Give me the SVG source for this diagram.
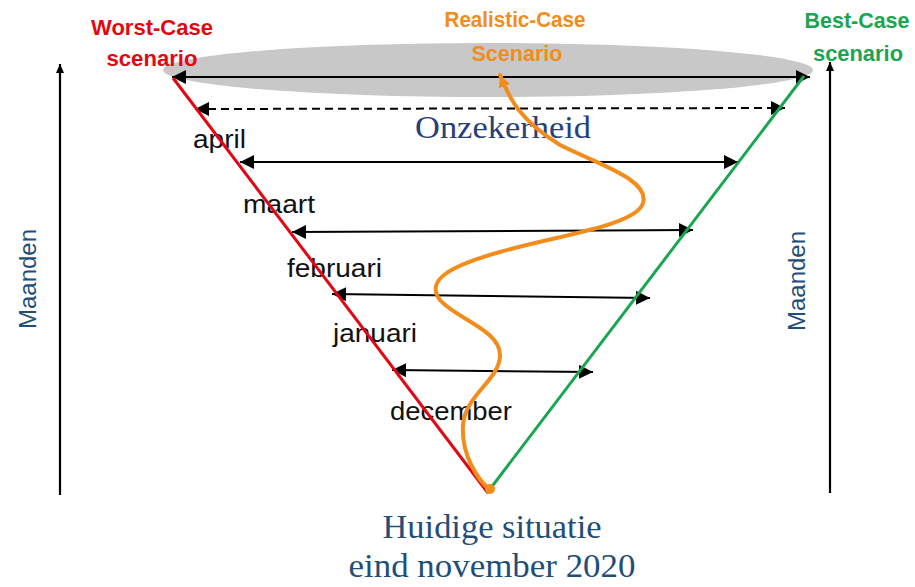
<svg xmlns="http://www.w3.org/2000/svg" width="915" height="587" viewBox="0 0 915 587">
  <style>
    .lbl { font-family: "Liberation Sans", Arial, sans-serif; font-weight: bold; font-size: 22px; text-anchor: middle; }
    .month { font-family: "Liberation Sans", Arial, sans-serif; font-size: 25px; fill: #111; }
    .axislbl { font-family: "Liberation Sans", Arial, sans-serif; font-size: 24px; fill: #1F4E79; text-anchor: middle; }
    .serif { font-family: "Liberation Serif", "Times New Roman", serif; text-anchor: middle; }
    .arrow { stroke: #000; stroke-width: 2; fill: none; }
    .axis { stroke: #000; stroke-width: 2.2; fill: none; }
  </style>
  <defs>
    <marker id="ah" markerUnits="userSpaceOnUse" markerWidth="16" markerHeight="14" refX="14" refY="7" orient="auto-start-reverse">
      <path d="M0,0 L14,7 L0,14 Z" fill="#000"/>
    </marker>
    <marker id="axh" markerUnits="userSpaceOnUse" markerWidth="10" markerHeight="10" refX="9" refY="4" orient="auto">
      <path d="M0,0 L9,4 L0,8 Z" fill="#000"/>
    </marker>
    <marker id="oh" markerUnits="userSpaceOnUse" markerWidth="14" markerHeight="14" refX="12" refY="6" orient="auto">
      <path d="M0,0 L12,6 L0,12 Z" fill="#F28C1B"/>
    </marker>
  </defs>
  <rect width="915" height="587" fill="#fff"/>

  <g id="uncertainty-cloud">
    <ellipse cx="488" cy="70" rx="325" ry="27" fill="#C8C8C8"/>
  </g>

  <g id="axis-left">
    <line class="axis" x1="60" y1="495" x2="60" y2="64" marker-end="url(#axh)"/>
    <text class="axislbl" transform="translate(36,279) rotate(-90)">Maanden</text>
  </g>
  <g id="axis-right">
    <line class="axis" x1="830" y1="493" x2="830" y2="62" marker-end="url(#axh)"/>
    <text class="axislbl" transform="translate(805,281) rotate(-90)">Maanden</text>
  </g>

  <g id="labels-months">
    <text class="month" x="193" y="148" textLength="53" lengthAdjust="spacingAndGlyphs">april</text>
    <text class="month" x="243" y="213" textLength="72" lengthAdjust="spacingAndGlyphs">maart</text>
    <text class="month" x="287" y="277" textLength="95" lengthAdjust="spacingAndGlyphs">februari</text>
    <text class="month" x="333" y="342" textLength="84" lengthAdjust="spacingAndGlyphs">januari</text>
    <text class="month" x="390" y="420" textLength="122" lengthAdjust="spacingAndGlyphs">december</text>
  </g>

  <g id="onzekerheid">
    <text class="serif" x="503" y="138" font-size="32" fill="#27407A" textLength="176" lengthAdjust="spacingAndGlyphs">Onzekerheid</text>
  </g>

  <g id="current-situation">
    <text class="serif" x="492" y="538" font-size="33" fill="#1F4E79" textLength="219" lengthAdjust="spacingAndGlyphs">Huidige situatie</text>
    <text class="serif" x="492" y="577" font-size="33" fill="#1F4E79" textLength="287" lengthAdjust="spacingAndGlyphs">eind november 2020</text>
  </g>

  <g id="connectors">
    <line class="arrow" x1="172" y1="77" x2="810" y2="77" marker-start="url(#ah)" marker-end="url(#ah)"/>
    <line class="arrow" x1="195" y1="109" x2="785" y2="108" stroke-dasharray="8,5" marker-start="url(#ah)" marker-end="url(#ah)"/>
    <line class="arrow" x1="240" y1="162" x2="738" y2="162" marker-start="url(#ah)" marker-end="url(#ah)"/>
    <line class="arrow" x1="292" y1="232" x2="693" y2="230" marker-start="url(#ah)" marker-end="url(#ah)"/>
    <line class="arrow" x1="332" y1="294" x2="650" y2="298" marker-start="url(#ah)" marker-end="url(#ah)"/>
    <line class="arrow" x1="392" y1="370" x2="593" y2="372" marker-start="url(#ah)" marker-end="url(#ah)"/>
  </g>

  <g id="worst-case">
    <line x1="173" y1="78" x2="488" y2="493" stroke="#E30613" stroke-width="3"/>
    <text class="lbl" x="152" y="35" fill="#E30613" textLength="122" lengthAdjust="spacingAndGlyphs">Worst-Case</text>
    <text class="lbl" x="152" y="66" fill="#E30613" textLength="91" lengthAdjust="spacingAndGlyphs">scenario</text>
  </g>

  <g id="best-case">
    <line x1="804" y1="76" x2="487" y2="493" stroke="#1AA551" stroke-width="3"/>
    <text class="lbl" x="857" y="28" fill="#1AA551" textLength="105" lengthAdjust="spacingAndGlyphs">Best-Case</text>
    <text class="lbl" x="858" y="61" fill="#1AA551" textLength="90" lengthAdjust="spacingAndGlyphs">scenario</text>
  </g>

  <g id="realistic-case">
    <text class="lbl" x="515" y="27" fill="#F28C1B" textLength="141" lengthAdjust="spacingAndGlyphs">Realistic-Case</text>
    <text class="lbl" x="517" y="61" fill="#F28C1B" textLength="91" lengthAdjust="spacingAndGlyphs">Scenario</text>
    <path d="M490,490 C478,480 461,455 463,425 C465,395 500,380 500,355 C500,330 455,318 440,300 C425,280 450,266 500,252 C560,235 637,225 643,203 C650,180 600,165 560,145 C520,120 510,100 500,75" fill="none" stroke="#F28C1B" stroke-width="4" stroke-linecap="round" marker-end="url(#oh)"/>
    <circle cx="490" cy="489" r="5" fill="#F28C1B"/>
  </g>
</svg>
